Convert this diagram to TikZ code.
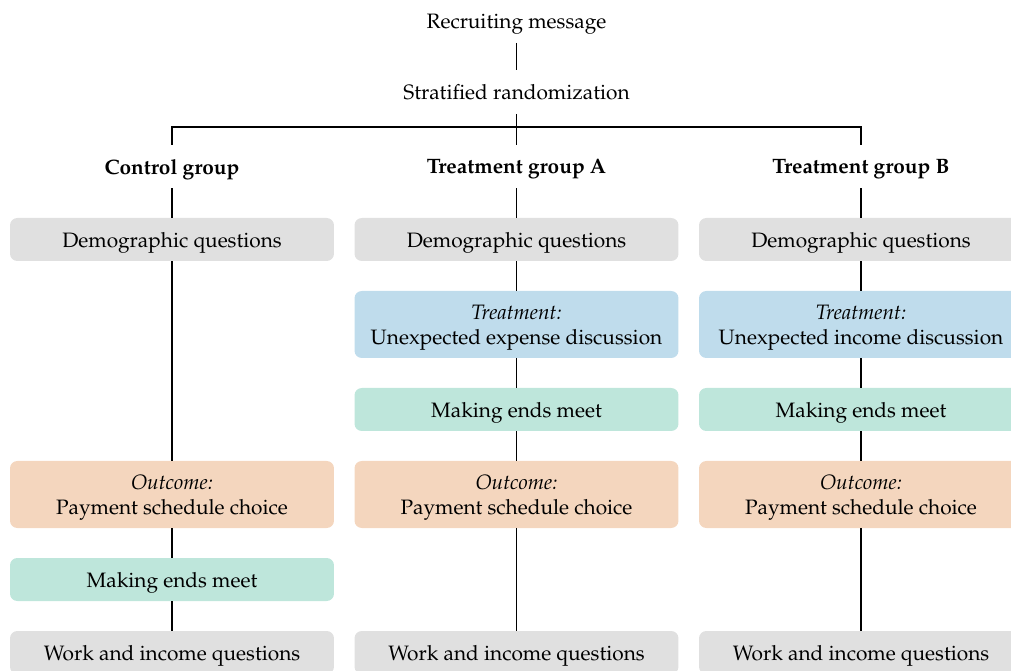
\documentclass[tikz,border=0pt]{standalone}
\usepackage[T1]{fontenc}
\usepackage{mathpazo}
\definecolor{boxgray}{RGB}{224,224,224}
\definecolor{boxblue}{RGB}{191,220,236}
\definecolor{boxgreen}{RGB}{190,230,219}
\definecolor{boxorange}{RGB}{244,214,190}
\tikzset{
  lbl/.style={inner sep=0pt, minimum height=20.64pt, align=center, text depth=0pt},
  box/.style={lbl, rounded corners=3.5pt, minimum width=155.5pt, fill=#1},
  tallbox/.style={box=#1, minimum height=32.16pt},
  conn/.style={line width=0.6pt}
}
\begin{document}
\begin{tikzpicture}[x=0.48pt, y=-0.48pt]
\useasboundingbox (0,0) rectangle (1011,671);
% top
\node[lbl] (r) at (516.5,21) {Recruiting message};
\node[lbl] (s) at (516.5,92) {Stratified randomization};
\coordinate (split) at (516.5,127);
% group labels
\node[lbl] (gc) at (172,166.5) {\textbf{Control group}};
\node[lbl] (ga) at (516.5,166.5) {\textbf{Treatment group A}};
\node[lbl] (gb) at (861,166.5) {\textbf{Treatment group B}};
% control column
\node[box=boxgray] (cd) at (172,239.5) {Demographic questions};
\node[tallbox=boxorange] (co) at (172,494.5) {\textit{Outcome:}\\Payment schedule choice};
\node[box=boxgreen] (cm) at (172,579.5) {Making ends meet};
\node[box=boxgray] (cw) at (172,652.5) {Work and income questions};
% treatment A column
\node[box=boxgray] (ad) at (516.5,239.5) {Demographic questions};
\node[tallbox=boxblue] (at) at (516.5,324.5) {\textit{Treatment:}\\Unexpected expense discussion};
\node[box=boxgreen] (am) at (516.5,409.5) {Making ends meet};
\node[tallbox=boxorange] (ao) at (516.5,494.5) {\textit{Outcome:}\\Payment schedule choice};
\node[box=boxgray] (aw) at (516.5,652.5) {Work and income questions};
% treatment B column
\node[box=boxgray] (bd) at (861,239.5) {Demographic questions};
\node[tallbox=boxblue] (bt) at (861,324.5) {\textit{Treatment:}\\Unexpected income discussion};
\node[box=boxgreen] (bm) at (861,409.5) {Making ends meet};
\node[tallbox=boxorange] (bo) at (861,494.5) {\textit{Outcome:}\\Payment schedule choice};
\node[box=boxgray] (bw) at (861,652.5) {Work and income questions};
% connectors
\draw[conn] (r) -- (s);
\draw[conn] (s) -- (ga);
\draw[conn] (gc.north) |- (split) -| (gb.north);
\draw[conn] (gc) -- (cd);
\draw[conn] (cd) -- (co);
\draw[conn] (co) -- (cm);
\draw[conn] (cm) -- (cw);
\draw[conn] (ga) -- (ad);
\draw[conn] (ad) -- (at);
\draw[conn] (at) -- (am);
\draw[conn] (am) -- (ao);
\draw[conn] (ao) -- (aw);
\draw[conn] (gb) -- (bd);
\draw[conn] (bd) -- (bt);
\draw[conn] (bt) -- (bm);
\draw[conn] (bm) -- (bo);
\draw[conn] (bo) -- (bw);
\end{tikzpicture}
\end{document}
